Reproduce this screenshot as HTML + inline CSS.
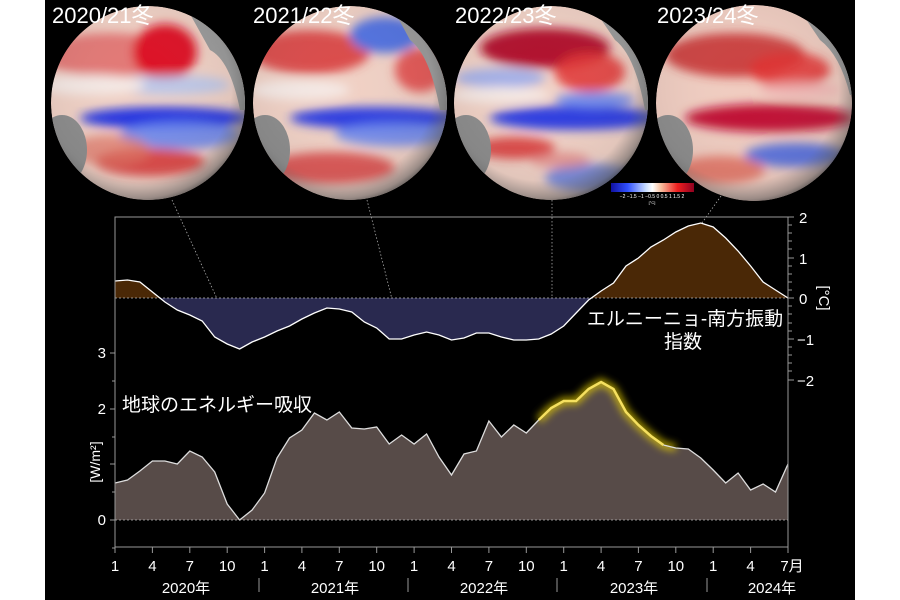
<!DOCTYPE html>
<html><head><meta charset="utf-8"><style>
html,body{margin:0;padding:0;background:#fff;}
svg{display:block;}
text{font-family:"Liberation Sans","Noto Sans CJK JP",sans-serif;fill:#fff;}
</style></head><body>
<svg width="900" height="600" viewBox="0 0 900 600" xmlns="http://www.w3.org/2000/svg">
<defs>
<radialGradient id="sph" cx="0.45" cy="0.42" r="0.6">
<stop offset="0" stop-color="#fff" stop-opacity="0"/>
<stop offset="0.8" stop-color="#666" stop-opacity="0.1"/>
<stop offset="0.95" stop-color="#555" stop-opacity="0.55"/>
<stop offset="1" stop-color="#444" stop-opacity="0.8"/>
</radialGradient>
<filter id="bl" x="-30%" y="-30%" width="160%" height="160%"><feGaussianBlur stdDeviation="5"/></filter>
<filter id="glow" x="-20%" y="-50%" width="140%" height="200%"><feGaussianBlur stdDeviation="4"/></filter>
<linearGradient id="cb" x1="0" x2="1">
<stop offset="0" stop-color="#1010a0"/><stop offset="0.2" stop-color="#3050ff"/><stop offset="0.42" stop-color="#c8dcff"/><stop offset="0.5" stop-color="#fff"/><stop offset="0.6" stop-color="#f8c0a0"/><stop offset="0.8" stop-color="#ee2020"/><stop offset="1" stop-color="#900020"/>
</linearGradient>
<clipPath id="c1"><circle cx="148" cy="103" r="97"/></clipPath>
<clipPath id="c2"><circle cx="350" cy="103" r="97"/></clipPath>
<clipPath id="c3"><circle cx="551" cy="103" r="97"/></clipPath>
<clipPath id="c4"><circle cx="754" cy="103" r="98"/></clipPath>
<clipPath id="pos"><rect x="115" y="210" width="673" height="88"/></clipPath>
<clipPath id="neg"><rect x="115" y="298" width="673" height="100"/></clipPath>
</defs>
<rect x="45" y="0" width="810" height="600" fill="#000"/>

<!-- Globe 1 -->
<g clip-path="url(#c1)">
<circle cx="148" cy="103" r="97" fill="#f0d0c4"/>
<g filter="url(#bl)">
<ellipse cx="110" cy="55" rx="70" ry="22" fill="#e06060" opacity="0.8"/>
<ellipse cx="165" cy="52" rx="32" ry="28" fill="#dd1020"/>
<ellipse cx="170" cy="85" rx="60" ry="10" fill="#b0c4f0" opacity="0.8"/>
<ellipse cx="90" cy="85" rx="55" ry="10" fill="#f4e8e4"/>
<ellipse cx="165" cy="118" rx="85" ry="11" fill="#2030e0"/>
<ellipse cx="180" cy="135" rx="60" ry="14" fill="#6080f0" opacity="0.85"/>
<ellipse cx="150" cy="162" rx="55" ry="14" fill="#d83030" opacity="0.85"/>
<ellipse cx="110" cy="150" rx="40" ry="15" fill="#e07060" opacity="0.7"/>
</g>
<path d="M185 5 L250 5 L250 110 L240 110 Q230 60 210 50 Z" fill="#999"/>
<ellipse cx="62" cy="150" rx="25" ry="35" fill="#8a8a8a"/>
<circle cx="148" cy="103" r="97" fill="url(#sph)"/>
</g>
<!-- Globe 2 -->
<g clip-path="url(#c2)">
<circle cx="350" cy="103" r="97" fill="#f0d0c4"/>
<g filter="url(#bl)">
<ellipse cx="310" cy="52" rx="60" ry="22" fill="#d83a3a" opacity="0.9"/>
<ellipse cx="385" cy="35" rx="35" ry="18" fill="#5070e0"/>
<ellipse cx="420" cy="70" rx="25" ry="22" fill="#e04040" opacity="0.85"/>
<ellipse cx="300" cy="90" rx="50" ry="10" fill="#f4e8e4"/>
<ellipse cx="375" cy="118" rx="85" ry="11" fill="#2a3ae0"/>
<ellipse cx="395" cy="134" rx="60" ry="12" fill="#6080f0" opacity="0.85"/>
<ellipse cx="330" cy="168" rx="65" ry="16" fill="#d84040" opacity="0.85"/>
</g>
<path d="M390 3 L450 3 L450 110 L440 110 Q430 55 410 40 Z" fill="#999"/>
<ellipse cx="265" cy="150" rx="25" ry="35" fill="#8a8a8a"/>
<circle cx="350" cy="103" r="97" fill="url(#sph)"/>
</g>
<!-- Globe 3 -->
<g clip-path="url(#c3)">
<circle cx="551" cy="103" r="97" fill="#f0d0c4"/>
<g filter="url(#bl)">
<ellipse cx="545" cy="48" rx="65" ry="20" fill="#b0102a"/>
<ellipse cx="590" cy="72" rx="35" ry="20" fill="#e03030" opacity="0.85"/>
<ellipse cx="500" cy="78" rx="45" ry="10" fill="#90a8f0" opacity="0.8"/>
<ellipse cx="500" cy="95" rx="50" ry="8" fill="#f4e8e4"/>
<ellipse cx="575" cy="118" rx="85" ry="12" fill="#2a3ae0"/>
<ellipse cx="595" cy="100" rx="40" ry="8" fill="#6080f0" opacity="0.85"/>
<ellipse cx="515" cy="148" rx="40" ry="11" fill="#d83030" opacity="0.85"/>
<ellipse cx="590" cy="178" rx="45" ry="14" fill="#5070e0" opacity="0.75"/>
<ellipse cx="560" cy="160" rx="30" ry="8" fill="#e07070" opacity="0.6"/>
</g>
<path d="M590 3 L655 3 L655 110 L645 110 Q635 55 615 40 Z" fill="#999"/>
<ellipse cx="466" cy="150" rx="25" ry="35" fill="#8a8a8a"/>
<circle cx="551" cy="103" r="97" fill="url(#sph)"/>
</g>
<!-- Globe 4 -->
<g clip-path="url(#c4)">
<circle cx="754" cy="103" r="98" fill="#f0ccc0"/>
<g filter="url(#bl)">
<ellipse cx="735" cy="55" rx="70" ry="22" fill="#c83030" opacity="0.9"/>
<ellipse cx="790" cy="70" rx="40" ry="18" fill="#e03030" opacity="0.85"/>
<ellipse cx="770" cy="118" rx="85" ry="14" fill="#c01030"/>
<ellipse cx="800" cy="90" rx="40" ry="8" fill="#f0b0b0" opacity="0.8"/>
<ellipse cx="795" cy="155" rx="50" ry="12" fill="#4060e0" opacity="0.85"/>
<ellipse cx="720" cy="170" rx="45" ry="14" fill="#e06050" opacity="0.75"/>
</g>
<path d="M795 3 L860 3 L860 95 L850 95 Q840 55 820 40 Z" fill="#999"/>
<ellipse cx="668" cy="150" rx="25" ry="35" fill="#8a8a8a"/>
<circle cx="754" cy="103" r="98" fill="url(#sph)"/>
</g>

<g font-size="22">
<text x="52" y="23">2020/21冬</text>
<text x="253" y="23">2021/22冬</text>
<text x="455" y="23">2022/23冬</text>
<text x="657" y="23">2023/24冬</text>
</g>

<!-- colorbar -->
<rect x="611" y="183" width="83" height="9" fill="url(#cb)"/>
<text x="652" y="198" font-size="5" text-anchor="middle">−2 −1.5 −1 −0.5  0  0.5  1  1.5  2</text>
<text x="652" y="204" font-size="4" text-anchor="middle">[°C]</text>

<!-- connector dotted lines -->
<g stroke="#aaa" stroke-width="0.8" stroke-dasharray="1.5,2" fill="none">
<line x1="172" y1="200" x2="240" y2="349"/>
<line x1="367" y1="200" x2="402" y2="339"/>
<line x1="552" y1="200" x2="552" y2="334"/>
<line x1="721" y1="196" x2="702" y2="223"/>
</g>

<!-- ENSO area -->
<g>
<polygon clip-path="url(#pos)" fill="#4a2806" points="115,298 115,281 127.5,280 139.9,282 152.4,292 164.9,302 177.3,310 189.8,315 202.2,321 214.7,337 227.2,344 239.6,349 252.1,342 264.6,337 277,331 289.5,326 301.9,319 314.4,313 326.9,308 339.3,309 351.8,312 364.3,322 376.7,328 389.2,339 401.6,339 414.1,335 426.6,332 439,335 451.5,340 464,338 476.4,333 488.9,333 501.4,337 513.8,340 526.3,340 538.7,339 551.2,334 563.7,326 576.1,313 588.6,300 601.1,291 613.5,283 626,266 638.4,258 650.9,247 663.4,240 675.8,232 688.3,226 700.8,223 713.2,227 725.7,238 738.1,251 750.6,266 763.1,282 775.5,290 788,298"/>
<polygon clip-path="url(#neg)" fill="#29294f" points="115,298 115,281 127.5,280 139.9,282 152.4,292 164.9,302 177.3,310 189.8,315 202.2,321 214.7,337 227.2,344 239.6,349 252.1,342 264.6,337 277,331 289.5,326 301.9,319 314.4,313 326.9,308 339.3,309 351.8,312 364.3,322 376.7,328 389.2,339 401.6,339 414.1,335 426.6,332 439,335 451.5,340 464,338 476.4,333 488.9,333 501.4,337 513.8,340 526.3,340 538.7,339 551.2,334 563.7,326 576.1,313 588.6,300 601.1,291 613.5,283 626,266 638.4,258 650.9,247 663.4,240 675.8,232 688.3,226 700.8,223 713.2,227 725.7,238 738.1,251 750.6,266 763.1,282 775.5,290 788,298"/>
<line x1="115" y1="298" x2="788" y2="298" stroke="#bbb" stroke-width="0.8" stroke-dasharray="2,2"/>
<polyline fill="none" stroke="#fff" stroke-width="1.3" points="115,281 127.5,280 139.9,282 152.4,292 164.9,302 177.3,310 189.8,315 202.2,321 214.7,337 227.2,344 239.6,349 252.1,342 264.6,337 277,331 289.5,326 301.9,319 314.4,313 326.9,308 339.3,309 351.8,312 364.3,322 376.7,328 389.2,339 401.6,339 414.1,335 426.6,332 439,335 451.5,340 464,338 476.4,333 488.9,333 501.4,337 513.8,340 526.3,340 538.7,339 551.2,334 563.7,326 576.1,313 588.6,300 601.1,291 613.5,283 626,266 638.4,258 650.9,247 663.4,240 675.8,232 688.3,226 700.8,223 713.2,227 725.7,238 738.1,251 750.6,266 763.1,282 775.5,290 788,298"/>
</g>

<!-- Energy area -->
<polygon fill="#574b48" points="115,520 115,483 127.5,480 139.9,471 152.4,461 164.9,461 177.3,464 189.8,451 202.2,457 214.7,472 227.2,504 239.6,520 252.1,510 264.6,493 277,458 289.5,438 301.9,430 314.4,413 326.9,420 339.3,412 351.8,428 364.3,429 376.7,427 389.2,444 401.6,435 414.1,444 426.6,434 439,457 451.5,475 464,454 476.4,451 488.9,421 501.4,437 513.8,425 526.3,433 538.7,420 551.2,408 563.7,401 576.1,401 588.6,389 601.1,382 613.5,389 626,412 638.4,425 650.9,436 663.4,445 675.8,448 688.3,449 700.8,458 713.2,470 725.7,483 738.1,473 750.6,490 763.1,484 775.5,492 788,464 788,520"/>
<polyline fill="none" stroke="#e8d000" stroke-width="7" opacity="0.8" filter="url(#glow)" points="538.7,420 551.2,408 563.7,401 576.1,401 588.6,389 601.1,382 613.5,389 626,412 638.4,425 650.9,436 663.4,445 675.8,448"/>
<polyline fill="none" stroke="#f5e060" stroke-width="2.5" points="538.7,420 551.2,408 563.7,401 576.1,401 588.6,389 601.1,382 613.5,389 626,412 638.4,425 650.9,436 663.4,445"/>
<polyline fill="none" stroke="#ddd" stroke-width="1.3" points="115,483 127.5,480 139.9,471 152.4,461 164.9,461 177.3,464 189.8,451 202.2,457 214.7,472 227.2,504 239.6,520 252.1,510 264.6,493 277,458 289.5,438 301.9,430 314.4,413 326.9,420 339.3,412 351.8,428 364.3,429 376.7,427 389.2,444 401.6,435 414.1,444 426.6,434 439,457 451.5,475 464,454 476.4,451 488.9,421 501.4,437 513.8,425 526.3,433 538.7,420"/>
<polyline fill="none" stroke="#ddd" stroke-width="1.3" points="663.4,445 675.8,448 688.3,449 700.8,458 713.2,470 725.7,483 738.1,473 750.6,490 763.1,484 775.5,492 788,464"/>
<line x1="115" y1="520" x2="788" y2="520" stroke="#bbb" stroke-width="0.8" stroke-dasharray="2,2"/>

<!-- frame -->
<rect x="115" y="217" width="673" height="330" fill="none" stroke="#999" stroke-width="1"/>
<g stroke="#999" stroke-width="1">
<line x1="110" y1="520" x2="115" y2="520"/><line x1="112" y1="492" x2="115" y2="492"/>
<line x1="110" y1="464" x2="115" y2="464"/><line x1="112" y1="437" x2="115" y2="437"/>
<line x1="110" y1="409" x2="115" y2="409"/><line x1="112" y1="381" x2="115" y2="381"/>
<line x1="110" y1="353" x2="115" y2="353"/><line x1="112" y1="548" x2="115" y2="548"/>
</g>
<g font-size="15" text-anchor="end">
<text x="106" y="358">3</text><text x="106" y="414">2</text><text x="106" y="525">0</text>
</g>
<text transform="translate(100,462) rotate(-90)" font-size="14" text-anchor="middle">[W/m²]</text>
<g stroke="#999" stroke-width="1">
<line x1="788" y1="217" x2="794" y2="217"/><line x1="788" y1="258" x2="794" y2="258"/><line x1="788" y1="298" x2="794" y2="298"/><line x1="788" y1="339" x2="794" y2="339"/><line x1="788" y1="380" x2="794" y2="380"/>
<line x1="788" y1="225" x2="792" y2="225"/><line x1="788" y1="233" x2="792" y2="233"/><line x1="788" y1="241" x2="792" y2="241"/><line x1="788" y1="249" x2="792" y2="249"/>
<line x1="788" y1="266" x2="792" y2="266"/><line x1="788" y1="274" x2="792" y2="274"/><line x1="788" y1="282" x2="792" y2="282"/><line x1="788" y1="290" x2="792" y2="290"/>
<line x1="788" y1="306" x2="792" y2="306"/><line x1="788" y1="314" x2="792" y2="314"/><line x1="788" y1="323" x2="792" y2="323"/><line x1="788" y1="331" x2="792" y2="331"/>
<line x1="788" y1="347" x2="792" y2="347"/><line x1="788" y1="355" x2="792" y2="355"/><line x1="788" y1="363" x2="792" y2="363"/><line x1="788" y1="371" x2="792" y2="371"/>
</g>
<g font-size="15">
<text x="799" y="223">2</text><text x="799" y="264">1</text><text x="799" y="304">0</text><text x="797" y="345">−1</text><text x="797" y="386">−2</text>
</g>
<text transform="translate(819,298) rotate(90)" font-size="15" text-anchor="middle">[°C]</text>

<text x="685" y="325" font-size="19" text-anchor="middle">エルニーニョ-南方振動</text>
<text x="683" y="348" font-size="19" text-anchor="middle">指数</text>
<text x="122" y="411" font-size="19">地球のエネルギー吸収</text>

<g stroke="#999" stroke-width="1">
<line x1="115" y1="547" x2="115" y2="553"/><line x1="152.4" y1="547" x2="152.4" y2="553"/><line x1="189.8" y1="547" x2="189.8" y2="553"/><line x1="227.2" y1="547" x2="227.2" y2="553"/>
<line x1="264.6" y1="547" x2="264.6" y2="553"/><line x1="301.9" y1="547" x2="301.9" y2="553"/><line x1="339.3" y1="547" x2="339.3" y2="553"/><line x1="376.7" y1="547" x2="376.7" y2="553"/>
<line x1="414.1" y1="547" x2="414.1" y2="553"/><line x1="451.5" y1="547" x2="451.5" y2="553"/><line x1="488.9" y1="547" x2="488.9" y2="553"/><line x1="526.3" y1="547" x2="526.3" y2="553"/>
<line x1="563.7" y1="547" x2="563.7" y2="553"/><line x1="601.1" y1="547" x2="601.1" y2="553"/><line x1="638.4" y1="547" x2="638.4" y2="553"/><line x1="675.8" y1="547" x2="675.8" y2="553"/>
<line x1="713.2" y1="547" x2="713.2" y2="553"/><line x1="750.6" y1="547" x2="750.6" y2="553"/><line x1="788" y1="547" x2="788" y2="553"/>
<line x1="259" y1="578" x2="259" y2="592"/><line x1="408" y1="578" x2="408" y2="592"/><line x1="557" y1="578" x2="557" y2="592"/><line x1="707" y1="578" x2="707" y2="592"/>
</g>
<g font-size="15" text-anchor="middle">
<text x="115" y="571">1</text><text x="152.4" y="571">4</text><text x="189.8" y="571">7</text><text x="227.2" y="571">10</text>
<text x="264.6" y="571">1</text><text x="301.9" y="571">4</text><text x="339.3" y="571">7</text><text x="376.7" y="571">10</text>
<text x="414.1" y="571">1</text><text x="451.5" y="571">4</text><text x="488.9" y="571">7</text><text x="526.3" y="571">10</text>
<text x="563.7" y="571">1</text><text x="601.1" y="571">4</text><text x="638.4" y="571">7</text><text x="675.8" y="571">10</text>
<text x="713.2" y="571">1</text><text x="750.6" y="571">4</text><text x="792" y="571">7月</text>
<text x="186" y="593">2020年</text><text x="335" y="593">2021年</text><text x="484" y="593">2022年</text><text x="634" y="593">2023年</text><text x="772" y="593">2024年</text>
</g>
</svg>
</body></html>
